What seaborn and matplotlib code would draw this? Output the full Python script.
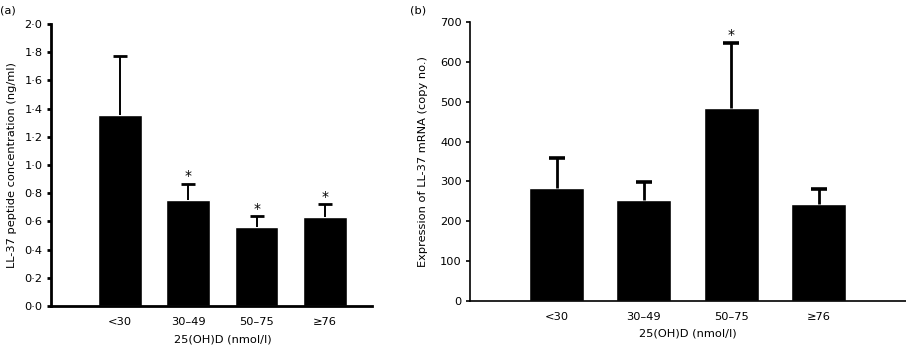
import numpy as np
import pandas as pd
import matplotlib
matplotlib.use("Agg")
import matplotlib.pyplot as plt
import seaborn as sns

# DATA
categories = ["<30", "30\u201349", "50\u201375", "\u226576"]

peptide_mean = [1.355, 0.752, 0.560, 0.631]
peptide_err = [0.420, 0.115, 0.076, 0.090]
peptide_star = [False, True, True, True]
peptide_ticks = [0.0, 0.2, 0.4, 0.6, 0.8, 1.0, 1.2, 1.4, 1.6, 1.8, 2.0]

mrna_mean = [283, 253, 483, 243]
mrna_err = [77, 46, 165, 37]
mrna_star = [False, False, True, False]
mrna_ticks = [0, 100, 200, 300, 400, 500, 600, 700]

xlabel = "25(OH)D (nmol/l)"

sns.set_style("white")
plt.rcParams["font.family"] = ["DejaVu Sans"]
plt.rcParams["font.size"] = 8.2
plt.rcParams["text.color"] = "black"
plt.rcParams["axes.labelcolor"] = "black"
plt.rcParams["xtick.color"] = "black"
plt.rcParams["ytick.color"] = "black"

fig = plt.figure(figsize=(9.06, 3.47), dpi=100)
ax_a = fig.add_axes([0.0563, 0.1182, 0.4106 - 0.0563, 0.9308 - 0.1182])
ax_b = fig.add_axes([0.5188, 0.1326, 1.0 - 0.5188, 0.9366 - 0.1326])


def panel(ax, means, errs, stars, ticks, ylabel, fmt, spine_w, err_w, cap, width, xlim):
    df = pd.DataFrame({"group": categories, "value": means})
    sns.barplot(data=df, x="group", y="value", color="black", saturation=1,
                width=width, ax=ax, errorbar=None)
    x = np.arange(len(categories))
    tops = np.array(means) + np.array(errs)
    # upper error bars only, cap drawn as a marker at the top
    ax.vlines(x, means, tops, color="black", linewidth=err_w)
    ax.plot(x, tops, linestyle="none", marker="_", markersize=cap,
            markeredgewidth=err_w + 0.6, color="black")
    for xi, t, s in zip(x, tops, stars):
        if s:
            ax.annotate("*", (xi, t), xytext=(0, 0.5), textcoords="offset points",
                        ha="center", va="bottom", fontsize=10)
    ax.set_xlim(*xlim)
    ax.set_ylim(ticks[0], ticks[-1])
    ax.set_yticks(ticks)
    ax.set_yticklabels([fmt(t) for t in ticks])
    for side in ["top", "right"]:
        ax.spines[side].set_visible(False)
    for side in ["left", "bottom"]:
        ax.spines[side].set_linewidth(spine_w)
        ax.spines[side].set_color("black")
    ax.tick_params(axis="y", direction="out", length=3, width=spine_w, pad=3, left=True)
    ax.tick_params(axis="x", length=0, pad=8)
    ax.set_ylabel(ylabel)
    ax.set_xlabel(xlabel, labelpad=9)


panel(ax_a, peptide_mean, peptide_err, peptide_star, peptide_ticks,
      "LL-37 peptide concentration (ng/ml)", lambda v: f"{v:.1f}".replace(".", "\u00b7"),
      2.0, 1.4, 10, 0.64, (-1.01, 3.69))
panel(ax_b, mrna_mean, mrna_err, mrna_star, mrna_ticks,
      "Expression of LL-37 mRNA (copy no.)", lambda v: f"{v:d}",
      1.2, 2.0, 12, 0.63, (-0.99, 4.0))

ax_a.xaxis.set_label_coords(0.534, -0.1)
ax_b.xaxis.set_label_coords(0.499, -0.1)
ax_a.yaxis.set_label_coords(-0.106, 0.5)
ax_b.yaxis.set_label_coords(-0.096, 0.5)

fig.text(0.0, 0.985, "(a)", ha="left", va="top")
fig.text(0.452, 0.985, "(b)", ha="left", va="top")

fig.savefig("out.png", dpi=100)
